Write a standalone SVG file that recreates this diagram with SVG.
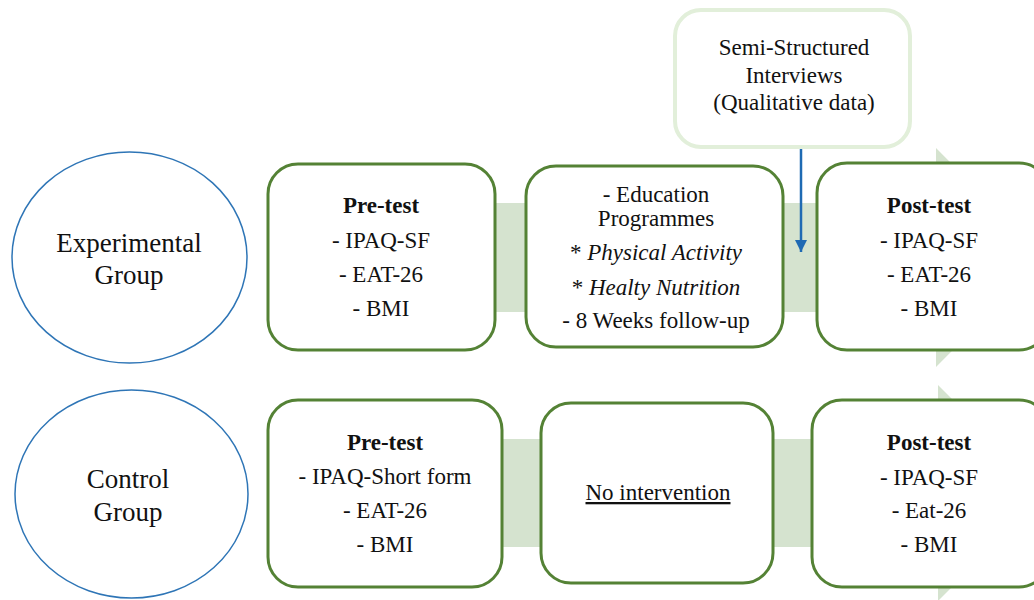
<svg xmlns="http://www.w3.org/2000/svg" width="1034" height="600" viewBox="0 0 1034 600">
<style>
text{fill:#111;text-anchor:middle}
.t{font-size:23px}
.g{font-size:27px}
.b{font-weight:bold}
.i{font-style:italic}
.box{fill:#fff;stroke:#548235;stroke-width:3}
.ell{fill:#fff;stroke:#2e75b6;stroke-width:1.5}
.flow{fill:#d5e3cf}
</style>
<defs>
<marker id="ah" viewBox="0 0 10 10" refX="10" refY="5" markerWidth="5" markerHeight="5.5" orient="auto" markerUnits="strokeWidth">
<path d="M0,0 L10,5 L0,10 z" fill="#1f6ab3"/>
</marker>
</defs>
<g id="connectors">
<polygon class="flow" points="300,203 936,203 936,148 1045,257.5 936,367 936,312 300,312"/>
<polygon class="flow" points="300,439 938,439 938,385 1046,493 938,601 938,547 300,547"/>
<line x1="801" y1="148" x2="801" y2="252" stroke="#1f6ab3" stroke-width="2.5" marker-end="url(#ah)"/>
</g>
<g font-family="Liberation Serif, Times New Roman, DejaVu Serif, serif">
<g id="exp-group">
<ellipse class="ell" cx="129.5" cy="257.5" rx="117.5" ry="105.5"/>
<text class="g" x="129" y="252">Experimental</text>
<text class="g" x="129" y="284">Group</text>
</g>
<g id="ctrl-group">
<ellipse class="ell" cx="131.5" cy="494" rx="116.5" ry="104"/>
<text class="g" x="128" y="488">Control</text>
<text class="g" x="128" y="521">Group</text>
</g>
<g id="interviews">
<rect x="675" y="10" width="235" height="137" rx="26" fill="#fff" stroke="#e2efda" stroke-width="4"/>
<text class="t" x="794" y="55">Semi-Structured</text>
<text class="t" x="794" y="83">Interviews</text>
<text class="t" x="794" y="110">(Qualitative data)</text>
</g>
<g id="exp-pretest">
<rect class="box" x="268" y="164" width="227" height="186" rx="30"/>
<text class="t b" x="381" y="213">Pre-test</text>
<text class="t" x="381" y="248">- IPAQ-SF</text>
<text class="t" x="381" y="282">- EAT-26</text>
<text class="t" x="381" y="316">- BMI</text>
</g>
<g id="exp-education">
<rect class="box" x="526" y="166" width="257" height="181" rx="30"/>
<text class="t" x="656" y="202">- Education</text>
<text class="t" x="656" y="226">Programmes</text>
<text class="t" x="656" y="260">* <tspan class="i">Physical Activity</tspan></text>
<text class="t" x="656" y="295">* <tspan class="i">Healty Nutrition</tspan></text>
<text class="t" x="656" y="328">- 8 Weeks follow-up</text>
</g>
<g id="exp-posttest">
<rect class="box" x="817" y="163" width="232" height="187" rx="30"/>
<text class="t b" x="929" y="213">Post-test</text>
<text class="t" x="929" y="248">- IPAQ-SF</text>
<text class="t" x="929" y="282">- EAT-26</text>
<text class="t" x="929" y="316">- BMI</text>
</g>
<g id="ctrl-pretest">
<rect class="box" x="268" y="400" width="234" height="187" rx="30"/>
<text class="t b" x="385" y="450">Pre-test</text>
<text class="t" x="385" y="484">- IPAQ-Short form</text>
<text class="t" x="385" y="518">- EAT-26</text>
<text class="t" x="385" y="552">- BMI</text>
</g>
<g id="ctrl-nointervention">
<rect class="box" x="541" y="403" width="232" height="180" rx="30"/>
<text class="t" x="658" y="500" text-decoration="underline">No intervention</text>
</g>
<g id="ctrl-posttest">
<rect class="box" x="812" y="400" width="237" height="187" rx="30"/>
<text class="t b" x="929" y="450">Post-test</text>
<text class="t" x="929" y="485">- IPAQ-SF</text>
<text class="t" x="929" y="518">- Eat-26</text>
<text class="t" x="929" y="552">- BMI</text>
</g>
</g>
</svg>
